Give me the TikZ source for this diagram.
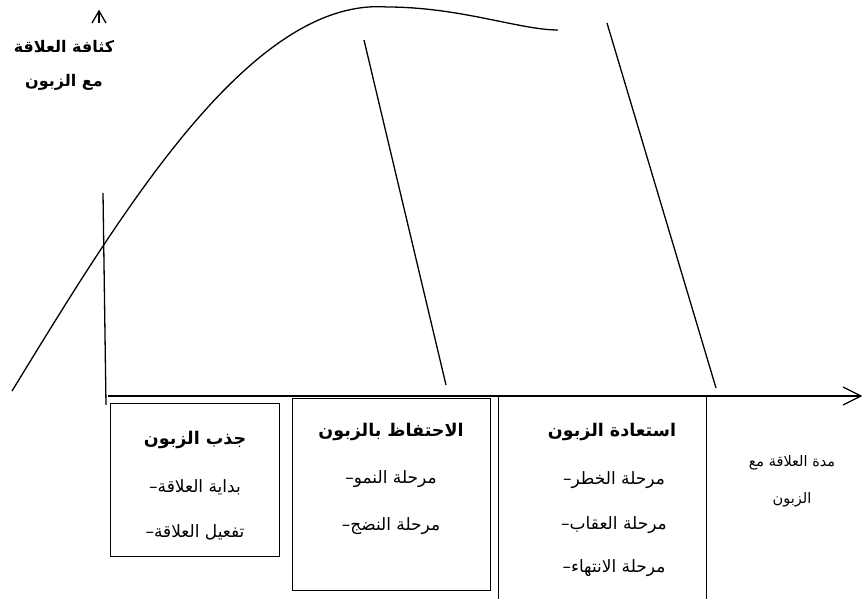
\documentclass[tikz,border=0pt]{standalone}
\usepackage{fontspec}
\TeXXeTstate=1
\newfontfamily\arabicfont[Script=Arabic]{DejaVu Sans}
\newcommand\artxt[1]{\beginR #1\endR}
\newcommand\dashtxt[1]{\hbox{–}\beginR #1\endR}
\tikzset{
  ln/.style={line width=1.3pt, black},
  phasebox/.style={draw, line width=1.3pt, inner sep=0pt, anchor=north west},
  head/.style={inner sep=0pt, font=\arabicfont\bfseries\fontsize{17.5}{20}\selectfont},
  item/.style={inner sep=0pt, font=\arabicfont\fontsize{17}{20}\selectfont},
  axlbl/.style={inner sep=0pt, font=\arabicfont\bfseries\fontsize{16}{18}\selectfont},
  durlbl/.style={inner sep=0pt, font=\arabicfont\fontsize{14.5}{16}\selectfont},
}
\begin{document}
\begin{tikzpicture}[x=1pt,y=-1pt]
\useasboundingbox (0,0) rectangle (865,599);
% y axis tip
\coordinate (ytip) at (99,11);
\draw[ln] (92,23) -- (ytip) -- (106,23);
\draw[ln] (ytip) -- (99,23);
% x axis
\coordinate (xstart) at (108,396);
\coordinate (xtip) at (861,396);
\draw[ln] (xstart) -- (xtip);
\draw[ln] (843,387) -- (xtip) -- (843,405);
% curve
\coordinate (c0) at (12,391);
\coordinate (cpk) at (387,7);
\coordinate (cend) at (558,30);
\draw[ln] (c0) .. controls (120,215) and (250,-3) .. (cpk)
               .. controls (460,7) and (520,30) .. (cend);
% separating lines
\draw[ln] (103,193) -- (106,405);
\draw[ln] (364,40) -- (446,385);
\draw[ln] (607,23) -- (716,388);
% boxes
\node[phasebox, minimum width=169pt, minimum height=153pt] (b1) at (110,403) {};
\node[phasebox, minimum width=198pt, minimum height=192pt] (b2) at (292,398) {};
\node[phasebox, minimum width=208pt, minimum height=215pt] (b3) at (498,396) {};
% box 1 text
\node[head] (h1) at (195,440) {\artxt{جذب الزبون}};
\node[item] (i11) at (195,487) {\dashtxt{بداية العلاقة}};
\node[item] (i12) at (195,532) {\dashtxt{تفعيل العلاقة}};
% box 2 text
\node[head] (h2) at (391,432) {\artxt{الاحتفاظ بالزبون}};
\node[item] (i21) at (391,479) {\dashtxt{مرحلة النمو}};
\node[item] (i22) at (391,526) {\dashtxt{مرحلة النضج}};
% box 3 text
\node[head] (h3) at (612,432) {\artxt{استعادة الزبون}};
\node[item] (i31) at (614,480) {\dashtxt{مرحلة الخطر}};
\node[item] (i32) at (614,525) {\dashtxt{مرحلة العقاب}};
\node[item] (i33) at (614,568) {\dashtxt{مرحلة الانتهاء}};
% axis labels
\node[axlbl] (ya1) at (64,47) {\artxt{كثافة العلاقة}};
\node[axlbl] (ya2) at (64,82) {\artxt{مع الزبون}};
\node[durlbl] (xa1) at (792,463) {\artxt{مدة العلاقة مع}};
\node[durlbl] (xa2) at (792,500) {\artxt{الزبون}};
\end{tikzpicture}
\end{document}
